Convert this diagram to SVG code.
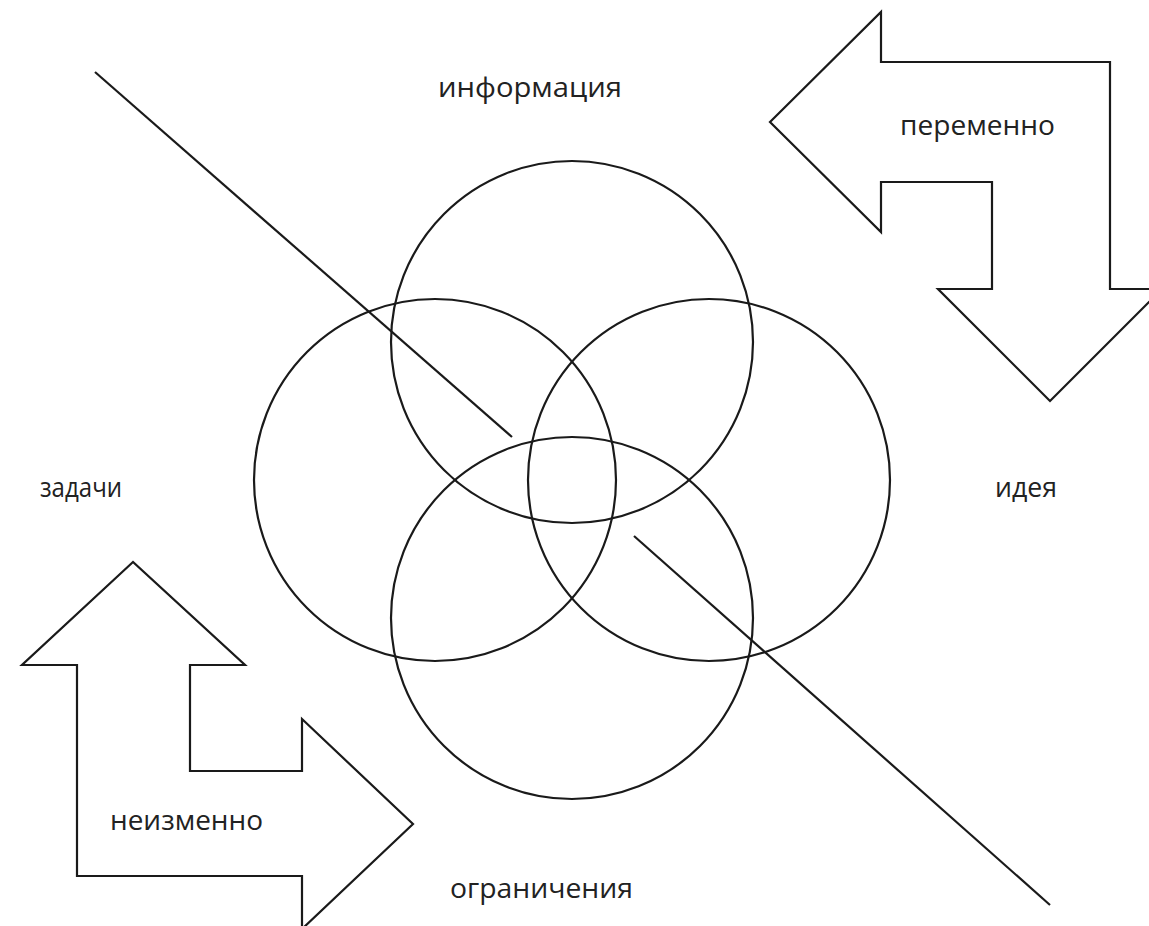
<svg xmlns="http://www.w3.org/2000/svg" width="1149" height="926" viewBox="0 0 1149 926">
<style>
.shape{fill:none;stroke:#1a1a1a;stroke-width:2.2}
.arrow{fill:#fff;stroke:#1a1a1a;stroke-width:2.2;stroke-linejoin:miter}
.lbl{font-family:"Open Sans","DejaVu Sans",sans-serif;font-size:27px;font-weight:500;fill:#222}
</style>
<rect width="1149" height="926" fill="#fff"/>
<g id="connectors">
<line class="shape" x1="95" y1="72" x2="512" y2="437"/>
<line class="shape" x1="634" y1="536" x2="1050" y2="905"/>
</g>
<g id="circle-top"><circle class="shape" cx="572" cy="342" r="181"/></g>
<g id="circle-left"><circle class="shape" cx="435" cy="480" r="181"/></g>
<g id="circle-right"><circle class="shape" cx="709" cy="480" r="181"/></g>
<g id="circle-bottom"><circle class="shape" cx="572" cy="618" r="181"/></g>
<g id="arrow-peremenno">
<path class="arrow" d="M770,122 L881,12 L881,62 L1110,62 L1110,289 L1162,289 L1050,401 L938,289 L992,289 L992,182 L881,182 L881,232 Z"/>
<text class="lbl" x="900" y="135" textLength="155" lengthAdjust="spacingAndGlyphs">переменно</text>
</g>
<g id="arrow-neizmenno">
<path class="arrow" d="M133,562 L22,665 L77,665 L77,876 L302,876 L302,929 L413,824 L302,719 L302,771 L190,771 L190,665 L245,665 Z"/>
<text class="lbl" x="110" y="830" textLength="153" lengthAdjust="spacingAndGlyphs">неизменно</text>
</g>
<g id="label-informacia"><text class="lbl" x="438" y="97" textLength="184" lengthAdjust="spacingAndGlyphs">информация</text></g>
<g id="label-zadachi"><text class="lbl" x="40" y="497" textLength="82" lengthAdjust="spacingAndGlyphs">задачи</text></g>
<g id="label-ideya"><text class="lbl" x="995" y="497" textLength="62" lengthAdjust="spacingAndGlyphs">идея</text></g>
<g id="label-ogranichenia"><text class="lbl" x="450" y="898" textLength="183" lengthAdjust="spacingAndGlyphs">ограничения</text></g>
</svg>
